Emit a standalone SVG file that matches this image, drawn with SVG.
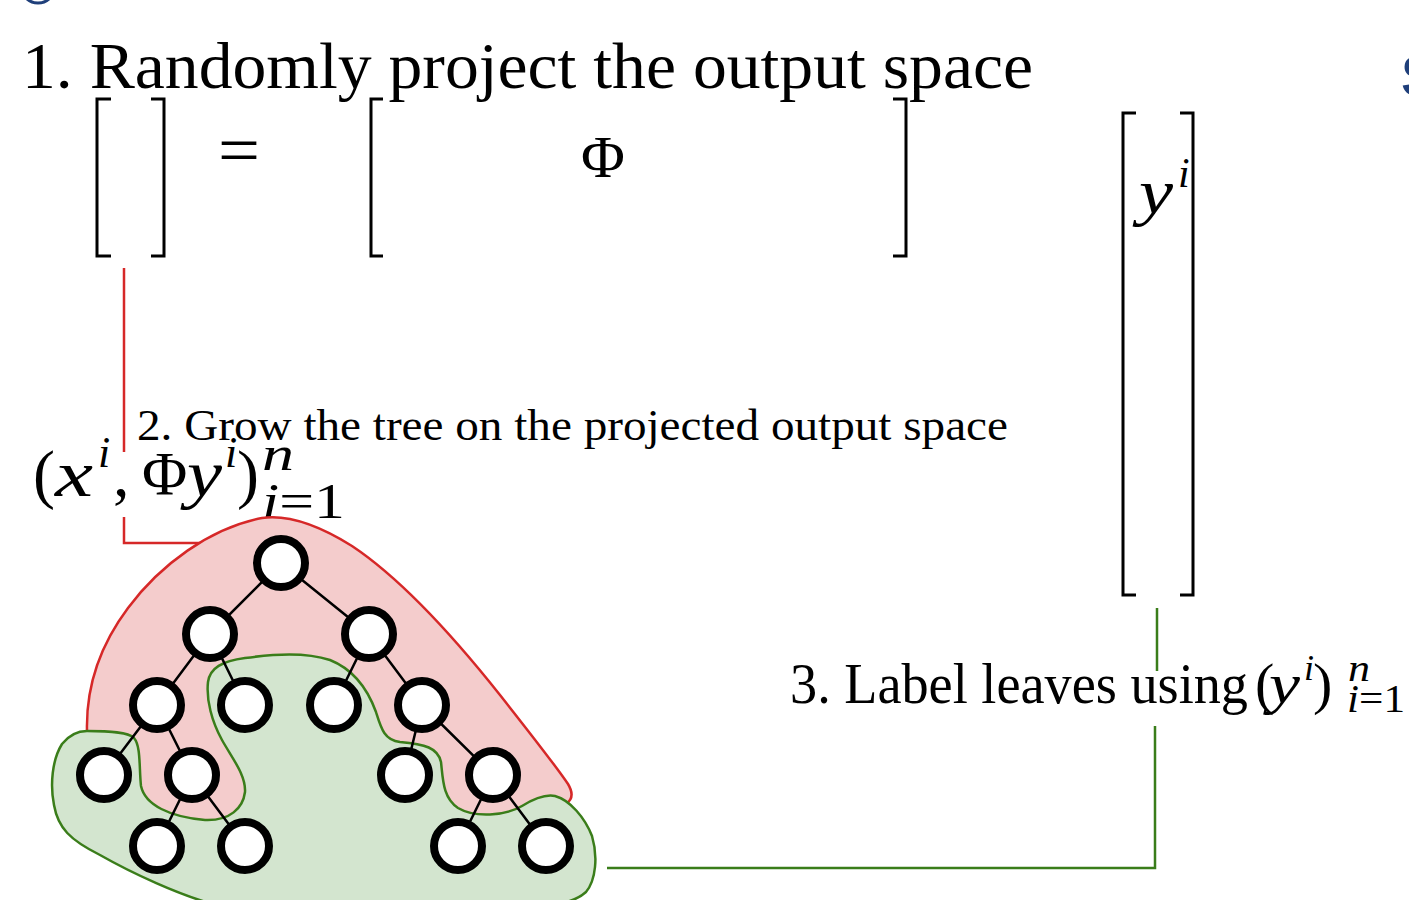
<svg xmlns="http://www.w3.org/2000/svg" width="1409" height="900" viewBox="0 0 1409 900">
<style>
text{font-family:"Liberation Serif","Times New Roman",serif;fill:#000}
.it{font-style:italic}
.br{fill:none;stroke:#000;stroke-width:3}
.edge{stroke:#000;stroke-width:2.5}
.node{fill:#fff;stroke:#000;stroke-width:8}
</style>
<rect width="1409" height="900" fill="#fff"/>
<!-- clipped edge fragments -->
<circle cx="38" cy="-14" r="17" fill="none" stroke="#1f3f7a" stroke-width="3"/>
<text x="1401" y="96" style="font-family:'Liberation Sans',sans-serif;font-weight:bold;fill:#1f3f7a" font-size="58">S</text>

<g id="title">
<text x="22" y="88" font-size="66" textLength="1011" lengthAdjust="spacingAndGlyphs">1.  Randomly project the output space</text>
</g>

<g id="matrix-left">
<path class="br" d="M111,99 H97 V256 H111 M151,99 H164 V256 H151"/>
</g>
<g id="equals">
<text x="218" y="174" font-size="70" textLength="42" lengthAdjust="spacingAndGlyphs">=</text>
</g>
<g id="matrix-phi">
<path class="br" d="M383,99 H371 V256 H383 M893,99 H906 V256 H893"/>
<text x="603" y="177" font-size="60" text-anchor="middle">Φ</text>
</g>
<g id="vector-y">
<path class="br" d="M1136,113 H1123 V595 H1136 M1180,113 H1193 V595 H1180"/>
<text class="it" x="1139" y="213" font-size="64" textLength="34" lengthAdjust="spacingAndGlyphs">y</text>
<text class="it" x="1178" y="187" font-size="42">i</text>
</g>

<g id="connectors">
<path d="M124,268 V452 M124,517 V543 H203" fill="none" stroke="#d62828" stroke-width="2.5"/>
<path d="M1157,608 V671 M1155,726 V868 H607" fill="none" stroke="#3a7d1a" stroke-width="2.5"/>
</g>

<g id="label-step2">
<text x="137" y="440" font-size="45" textLength="871" lengthAdjust="spacingAndGlyphs">2.  Grow the tree on the projected output space</text>
</g>
<g id="label-pairs">
<text x="33" y="496" font-size="66">(</text>
<text class="it" x="55" y="496" font-size="66" textLength="38" lengthAdjust="spacingAndGlyphs">x</text>
<text class="it" x="98" y="467" font-size="44">i</text>
<text x="113" y="496" font-size="66">,</text>
<text x="142" y="494" font-size="62">Φ</text>
<text class="it" x="187" y="496" font-size="66" textLength="35" lengthAdjust="spacingAndGlyphs">y</text>
<text class="it" x="225" y="467" font-size="44">i</text>
<text x="237" y="496" font-size="66">)</text>
<text class="it" x="262" y="470" font-size="48" textLength="32" lengthAdjust="spacingAndGlyphs">n</text>
<text x="262" y="518" font-size="50" textLength="83" lengthAdjust="spacingAndGlyphs"><tspan class="it">i</tspan>=1</text>
</g>

<g id="label-step3">
<text x="790" y="703" font-size="58" textLength="458" lengthAdjust="spacingAndGlyphs">3.  Label leaves using</text>
<text x="1255" y="703" font-size="58">(</text>
<text class="it" x="1269" y="703" font-size="58" textLength="31" lengthAdjust="spacingAndGlyphs">y</text>
<text class="it" x="1304" y="680" font-size="36">i</text>
<text x="1313" y="703" font-size="58">)</text>
<text class="it" x="1348" y="681" font-size="38" textLength="22" lengthAdjust="spacingAndGlyphs">n</text>
<text x="1347" y="712" font-size="40" textLength="58" lengthAdjust="spacingAndGlyphs"><tspan class="it">i</tspan>=1</text>
</g>

<g id="region-projected">
<path d="M87,731 C86,690 98,648 128,608 C160,565 210,528 262,518 C290,514 320,526 352,546 C400,578 450,632 500,695 C530,733 556,766 568,784 C574,794 572,800 566,804 L566,835 L87,835 Z" fill="#f4cccc" stroke="#d62828" stroke-width="2.5"/>
</g>
<g id="region-leaves">
<path d="M87,731 C110,731 128,732 134,738 C141,746 139,768 141,786 C145,805 170,817 205,820 C230,821 243,808 245,792 C246,775 232,758 222,740 C212,722 206,700 208,682 C210,668 222,661 245,658 C275,654 305,652 330,660 C355,670 368,690 376,712 C381,728 384,740 400,742 C425,744 438,748 441,762 C443,780 443,798 458,808 C475,818 505,816 522,806 C535,798 545,794 555,796 C570,800 585,818 592,836 C598,856 596,880 586,892 C575,902 560,904 540,906 L220,906 C180,896 130,872 100,855 C70,840 58,828 54,805 C50,785 52,760 62,744 C70,734 78,731 87,731 Z" fill="#d3e5cf" stroke="#3a7d1a" stroke-width="2.5"/>
</g>

<g id="tree-edges">
<path class="edge" d="M281,563 L210,634 M281,563 L369,634 M210,634 L157,705 M210,634 L245,705 M369,634 L334,705 M369,634 L422,705 M157,705 L104,775 M157,705 L192,775 M422,705 L405,775 M422,705 L493,775 M192,775 L157,846 M192,775 L245,846 M493,775 L458,846 M493,775 L546,846"/>
</g>
<g id="n-root"><circle class="node" cx="281" cy="563" r="24"/></g>
<g id="n-l"><circle class="node" cx="210" cy="634" r="24"/></g>
<g id="n-r"><circle class="node" cx="369" cy="634" r="24"/></g>
<g id="n-ll"><circle class="node" cx="157" cy="705" r="24"/></g>
<g id="n-lr"><circle class="node" cx="245" cy="705" r="24"/></g>
<g id="n-rl"><circle class="node" cx="334" cy="705" r="24"/></g>
<g id="n-rr"><circle class="node" cx="422" cy="705" r="24"/></g>
<g id="n-lll"><circle class="node" cx="104" cy="775" r="24"/></g>
<g id="n-llr"><circle class="node" cx="192" cy="775" r="24"/></g>
<g id="n-rrl"><circle class="node" cx="405" cy="775" r="24"/></g>
<g id="n-rrr"><circle class="node" cx="493" cy="775" r="24"/></g>
<g id="n-llrl"><circle class="node" cx="157" cy="846" r="24"/></g>
<g id="n-llrr"><circle class="node" cx="245" cy="846" r="24"/></g>
<g id="n-rrrl"><circle class="node" cx="458" cy="846" r="24"/></g>
<g id="n-rrrr"><circle class="node" cx="546" cy="846" r="24"/></g>
</svg>
